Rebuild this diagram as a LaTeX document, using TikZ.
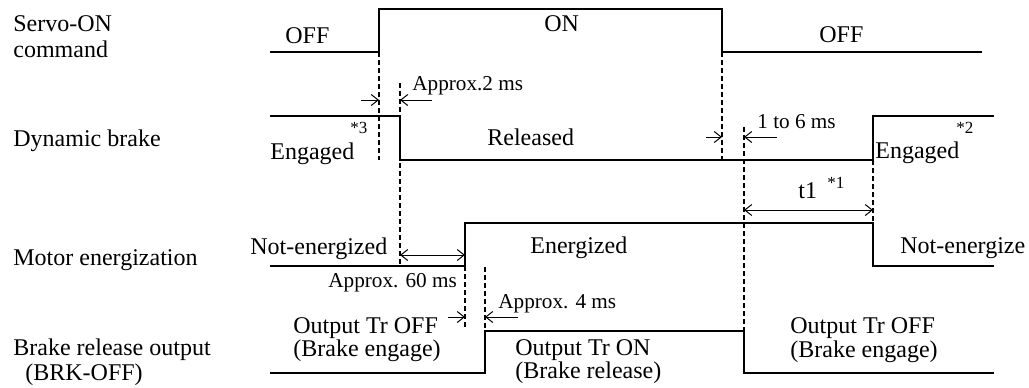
\documentclass[tikz,border=0pt]{standalone}
\usepackage{fontspec}
\setmainfont{Liberation Serif}
\usetikzlibrary{arrows.meta}
\begin{document}
\begin{tikzpicture}[x=0.5pt,y=-0.5pt,
  wave/.style={line width=1pt},
  guide/.style={line width=0.9pt,dash pattern=on 2.5pt off 1.5pt},
  dimarrow/.style={line width=0.5pt,-{Straight Barb[length=3.5pt,width=5.5pt]}},
  ddimarrow/.style={line width=0.5pt,{Straight Barb[length=3.5pt,width=5.5pt]}-{Straight Barb[length=3.5pt,width=5.5pt]}},
  lbl/.style={font=\fontsize{12}{14}\selectfont,inner sep=0pt,anchor=base west},
  tlbl/.style={font=\fontsize{10.6}{13}\selectfont,inner sep=0pt,anchor=base west},
  note/.style={font=\fontsize{8.5}{10}\selectfont,inner sep=0pt,anchor=base west}]
\useasboundingbox (0,0) rectangle (1029,387);

% waveforms
\draw[wave] (270,52) -- (379,52) -- (379,9) -- (722,9) -- (722,52) -- (982,52);
\draw[wave] (270,116) -- (400,116) -- (400,160) -- (873,160) -- (873,116) -- (994,116);
\draw[wave] (270,266) -- (465,266) -- (465,223) -- (873,223) -- (873,266) -- (994,266);
\draw[wave] (270,373) -- (485,373) -- (485,331) -- (744,331) -- (744,373) -- (994,373);

% guide coordinates
\coordinate (g1t) at (379,52);  \coordinate (g1b) at (379,160);
\coordinate (g2t) at (400,83);  \coordinate (g2b) at (400,266);
\coordinate (g3t) at (722,52);  \coordinate (g3b) at (722,160);
\coordinate (g4t) at (744,127); \coordinate (g4b) at (744,331);
\coordinate (g5t) at (873,160); \coordinate (g5b) at (873,223);
\coordinate (g6t) at (465,266); \coordinate (g6b) at (465,328);
\coordinate (g7t) at (485,267); \coordinate (g7b) at (485,331);
\foreach \g in {1,...,7} {\draw[guide] (g\g t) -- (g\g b);}

% dimension arrows
\coordinate (a1s) at (361,100); \coordinate (a1e) at (379,100);
\coordinate (a2s) at (432,100); \coordinate (a2e) at (400,100);
\coordinate (a3s) at (706,137); \coordinate (a3e) at (722,137);
\coordinate (a4s) at (777,137); \coordinate (a4e) at (744,137);
\coordinate (a5s) at (400,255); \coordinate (a5e) at (465,255);
\coordinate (a6s) at (448,317); \coordinate (a6e) at (465,317);
\coordinate (a7s) at (518,317); \coordinate (a7e) at (485,317);
\coordinate (a8s) at (744,210); \coordinate (a8e) at (873,210);
\draw[dimarrow] (a1s) -- (a1e);
\draw[dimarrow] (a2s) -- (a2e);
\draw[dimarrow] (a3s) -- (a3e);
\draw[dimarrow] (a4s) -- (a4e);
\draw[ddimarrow] (a5s) -- (a5e);
\draw[dimarrow] (a6s) -- (a6e);
\draw[dimarrow] (a7s) -- (a7e);
\draw[ddimarrow] (a8s) -- (a8e);

% signal names
\node[lbl] (n1a) at (13,31) {Servo-ON};
\node[lbl] (n1b) at (13,57) {command};
\node[lbl] (n2) at (13,146) {Dynamic brake};
\node[lbl] (n3) at (13,265) {Motor energization};
\node[lbl] (n4a) at (13,355) {Brake release output};
\node[lbl] (n4b) at (25,380) {(BRK-OFF)};

% state labels
\node[lbl] (s1) at (285,43) {OFF};
\node[lbl] (s2) at (544,31) {ON};
\node[lbl] (s3) at (819,42) {OFF};
\node[lbl] (s4) at (270,159) {Engaged};
\node[lbl] (s5) at (487,145) {Released};
\node[lbl] (s6) at (875,158) {Engaged};
\node[lbl] (s7) at (250,254) {Not-energized};
\node[lbl] (s8) at (530,253) {Energized};
\node[lbl] (s9) at (900,253) {Not-energize};
\node[lbl] (s10a) at (293,333) {Output Tr OFF};
\node[lbl] (s10b) at (293,356) {(Brake engage)};
\node[lbl] (s11a) at (515,355) {Output Tr ON};
\node[lbl] (s11b) at (515,378) {(Brake release)};
\node[lbl] (s12a) at (790,333) {Output Tr OFF};
\node[lbl] (s12b) at (790,357) {(Brake engage)};

% timing labels
\node[tlbl] (t1) at (412,90) {Approx.2 ms};
\node[tlbl] (t2) at (757,128) {1 to 6 ms};
\node[tlbl] (t3) at (328,287) {Approx. 60 ms};
\node[tlbl] (t4) at (498,308) {Approx. 4 ms};
\node[lbl] (t5) at (798,198) {t1};

% notes
\node[note] (m3) at (350,133) {*3};
\node[note] (m2) at (956,133) {*2};
\node[note] (m1) at (827,188) {*1};
\end{tikzpicture}
\end{document}
